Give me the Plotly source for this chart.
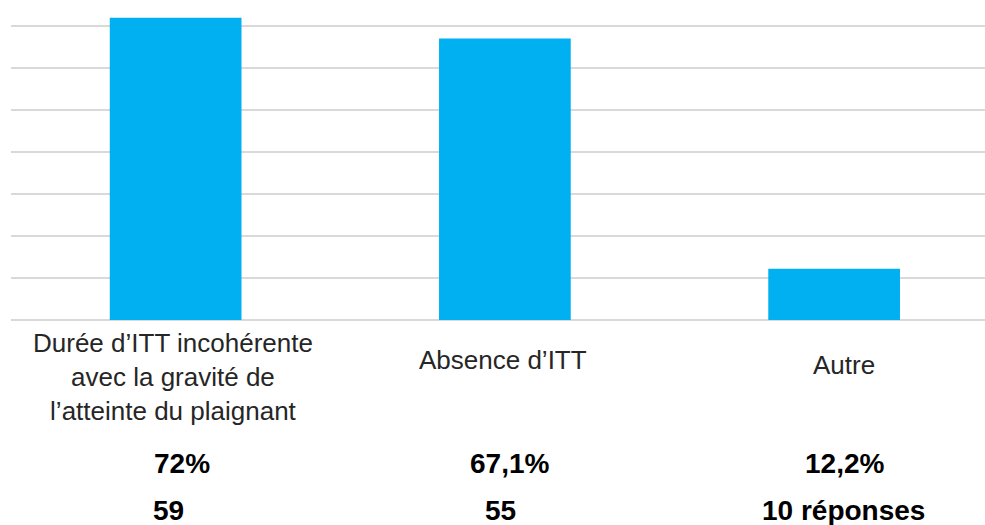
import plotly.graph_objects as go

# ---- data ----
categories = [
    "Durée d’ITT incohérente<br>avec la gravité de<br>l’atteinte du plaignant",
    "Absence d’ITT",
    "Autre",
]
values = [72.0, 67.1, 12.2]
pct_labels = ["72%", "67,1%", "12,2%"]
count_labels = ["59", "55", "10 réponses"]

# ---- style / layout ----
W, H = 985, 525
M_L, M_R, M_T, M_B = 11, 0, 0, 205
PLOT_H = H - M_T - M_B
PX_PER_UNIT = 4.197
BAR_COLOR = "#00B0F0"
GRID_COLOR = "#D9D9D9"
FONT = "Liberation Sans, Arial, sans-serif"

cat_label_y = [377, 360, 365]      # pixel centers
cat_label_dx = [-3, -2, 10]
pct_y, cnt_y = 463, 510
pct_dx = [6, 5, 10]
cnt_dx = [-7, -4, 9]

x_idx = list(range(len(categories)))

fig = go.Figure(go.Bar(
    x=x_idx, y=values, width=0.4,
    marker=dict(color=BAR_COLOR, line=dict(width=0)),
    hoverinfo="skip",
))

def py(pix):
    return (H - M_B - pix) / PLOT_H

ann = []
for i in x_idx:
    ann.append(dict(x=i, y=py(cat_label_y[i]), xref="x", yref="paper",
                    text=categories[i], showarrow=False, xanchor="center",
                    yanchor="middle", xshift=cat_label_dx[i], align="center",
                    font=dict(family=FONT, size=26, color="#262626")))
    ann.append(dict(x=i, y=py(pct_y), xref="x", yref="paper",
                    text="<b>" + pct_labels[i] + "</b>", showarrow=False,
                    xanchor="center", yanchor="middle", xshift=pct_dx[i],
                    font=dict(family=FONT, size=28, color="#000000")))
    ann.append(dict(x=i, y=py(cnt_y), xref="x", yref="paper",
                    text="<b>" + count_labels[i] + "</b>", showarrow=False,
                    xanchor="center", yanchor="middle", xshift=cnt_dx[i],
                    font=dict(family=FONT, size=28, color="#000000")))

plot_w = W - M_L - M_R
cat_w = 329.25
fig.update_layout(
    width=W, height=H,
    margin=dict(l=M_L, r=M_R, t=M_T, b=M_B, pad=0),
    paper_bgcolor="white", plot_bgcolor="white",
    showlegend=False,
    annotations=ann,
    xaxis=dict(range=[-0.5, -0.5 + plot_w / cat_w], showticklabels=False,
               showgrid=False, zeroline=False, showline=False, ticks=""),
    yaxis=dict(range=[0, PLOT_H / PX_PER_UNIT], dtick=10, tick0=0,
               showticklabels=False, showgrid=True, gridcolor=GRID_COLOR,
               gridwidth=1.5, zeroline=True, zerolinecolor=GRID_COLOR,
               zerolinewidth=1.5, showline=False, ticks=""),
)

fig.write_html(
    "out.html",
    config={"displayModeBar": False},
    post_script="document.body.style.margin='0';document.body.style.overflow='hidden';",
)
